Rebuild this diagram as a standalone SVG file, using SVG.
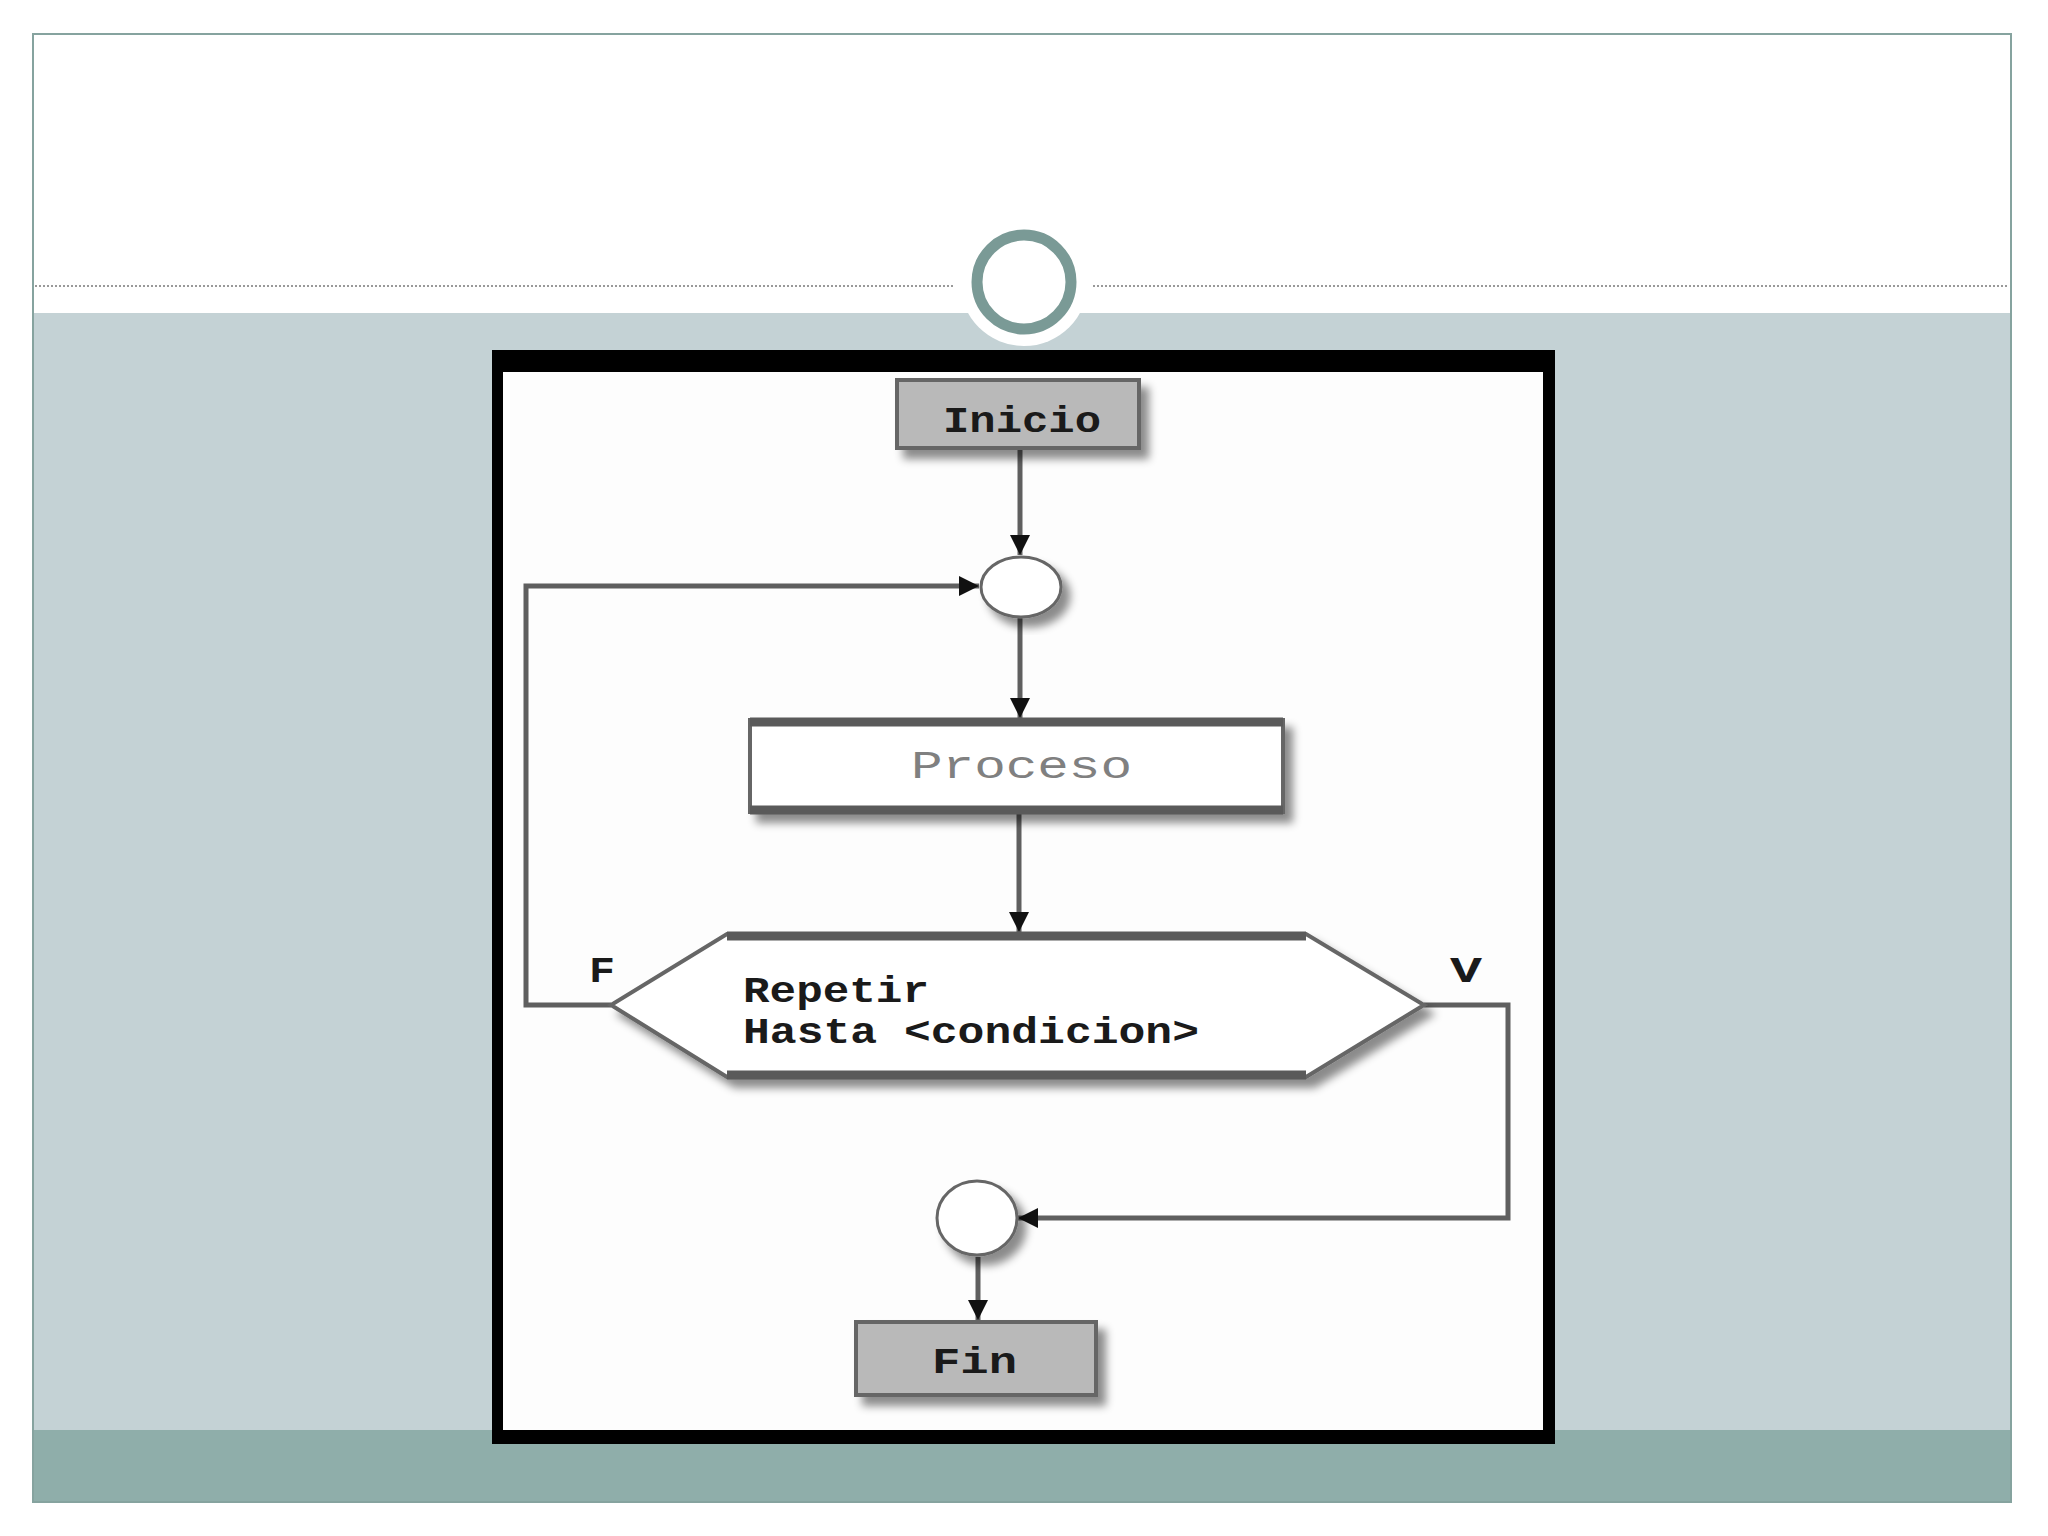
<svg xmlns="http://www.w3.org/2000/svg" width="2048" height="1536" viewBox="0 0 2048 1536">
<style>
.conn{fill:none;stroke:#5f5f5f;stroke-width:5}
.lbl{font-family:"Liberation Mono","DejaVu Sans Mono",monospace;font-weight:bold;fill:#1a1a1a}
.grey{font-family:"Liberation Mono","DejaVu Sans Mono",monospace;fill:#808080}
.edge{stroke:#5a5a5a;stroke-width:9}
</style>
<defs>
<filter id="sh" x="-20%" y="-20%" width="150%" height="150%">
<feDropShadow dx="8" dy="9" stdDeviation="4" flood-color="#000" flood-opacity="0.45"/>
</filter>
<marker id="ah" viewBox="0 0 10 10" refX="10" refY="5" markerWidth="4" markerHeight="4" orient="auto" markerUnits="strokeWidth">
<path d="M0,0 L10,5 L0,10 z" fill="#111"/>
</marker>
</defs>
<rect width="2048" height="1536" fill="#ffffff"/>
<g id="slide">
<rect x="33" y="313" width="1978" height="1117" fill="#c4d2d5"/>
<rect x="33" y="1430" width="1978" height="72" fill="#8faeaa"/>
<rect x="33" y="34" width="1978" height="1468" fill="none" stroke="#86a39f" stroke-width="2"/>
<line x1="35" y1="286" x2="955" y2="286" stroke="#999" stroke-width="2" stroke-dasharray="2 2"/>
<line x1="1093" y1="286" x2="2009" y2="286" stroke="#999" stroke-width="2" stroke-dasharray="2 2"/>
<circle cx="1024" cy="282" r="64" fill="#ffffff"/>
<circle cx="1024" cy="282" r="47" fill="#ffffff" stroke="#7a9a96" stroke-width="11"/>
</g>
<g id="frame">
<rect x="492" y="350" width="1063" height="1094" fill="#000"/>
<rect x="503" y="372" width="1040" height="1058" fill="#fdfdfd"/>
</g>
<g id="connectors">
<path class="conn" d="M1020,448 V555" marker-end="url(#ah)"/>
<path class="conn" d="M611,1005 H526 V586 H979" marker-end="url(#ah)"/>
<path class="conn" d="M1020,617 V718" marker-end="url(#ah)"/>
<path class="conn" d="M1019,812 V932" marker-end="url(#ah)"/>
<path class="conn" d="M1424,1005 H1508 V1218 H1018" marker-end="url(#ah)"/>
<path class="conn" d="M978,1257 V1320" marker-end="url(#ah)"/>
</g>
<g id="inicio">
<rect x="897" y="380" width="242" height="68" fill="#b9b9b9" stroke="#666" stroke-width="4" filter="url(#sh)"/>
<text class="lbl" x="943" y="432" font-size="36" textLength="158" lengthAdjust="spacingAndGlyphs">Inicio</text>
</g>
<g id="union1">
<ellipse cx="1021" cy="587" rx="40" ry="30" fill="#fff" stroke="#666" stroke-width="3" filter="url(#sh)"/>
</g>
<g id="proceso">
<rect x="750" y="720" width="533" height="92" fill="#fff" stroke="#666" stroke-width="4" filter="url(#sh)"/>
<line class="edge" x1="750" y1="722" x2="1283" y2="722"/>
<line class="edge" x1="750" y1="810" x2="1283" y2="810"/>
<text class="grey" x="911" y="778" font-size="38" textLength="221" lengthAdjust="spacingAndGlyphs">Proceso</text>
</g>
<g id="repetir">
<polygon points="727,934 1306,934 1424,1005 1306,1077 727,1077 611,1005" fill="#fff" stroke="#666" stroke-width="4" filter="url(#sh)"/>
<line class="edge" x1="727" y1="936" x2="1306" y2="936" stroke-width="8"/>
<line class="edge" x1="727" y1="1075" x2="1306" y2="1075" stroke-width="8"/>
<text class="lbl" x="743" y="1002" font-size="36" textLength="186" lengthAdjust="spacingAndGlyphs">Repetir</text>
<text class="lbl" x="743" y="1043" font-size="36" textLength="456" lengthAdjust="spacingAndGlyphs">Hasta &lt;condicion&gt;</text>
<text class="lbl" x="589" y="982" font-size="36" textLength="26" lengthAdjust="spacingAndGlyphs">F</text>
<text class="lbl" x="1450" y="982" font-size="36" textLength="32" lengthAdjust="spacingAndGlyphs">V</text>
</g>
<g id="union2">
<ellipse cx="977" cy="1218" rx="40" ry="37" fill="#fff" stroke="#666" stroke-width="3" filter="url(#sh)"/>
</g>
<g id="fin">
<rect x="856" y="1322" width="240" height="73" fill="#b9b9b9" stroke="#666" stroke-width="4" filter="url(#sh)"/>
<text class="lbl" x="932" y="1373" font-size="36" textLength="85" lengthAdjust="spacingAndGlyphs">Fin</text>
</g>
</svg>
